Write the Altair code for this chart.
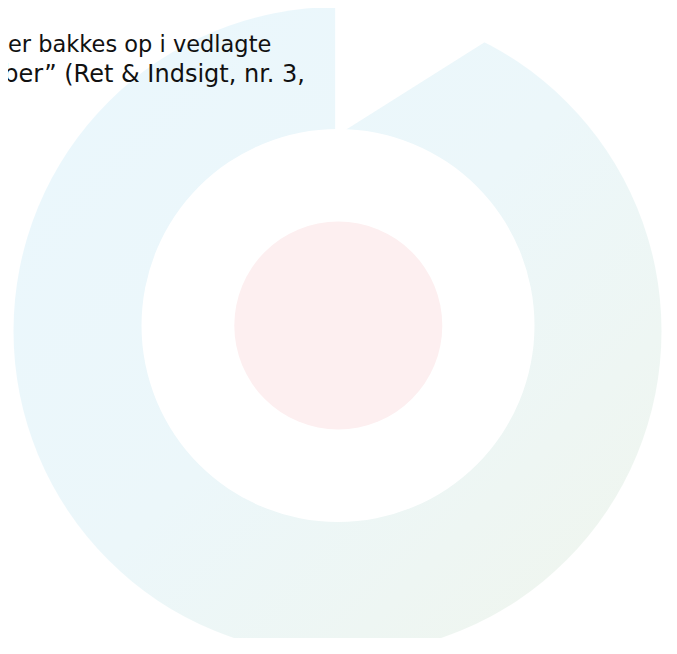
import math
import altair as alt
import pandas as pd

# ---- data -------------------------------------------------------------
text_lines = ["er bakkes op i vedlagte", "ber\u201d (Ret & Indsigt, nr. 3,"]

# ring: one band that runs from the gap all the way round (degrees, clockwise from 12 o'clock)
ring_names = ["Ring"]
ring_start_deg = [0.0]
ring_end_deg = [360.0]

# the gap in the ring is cut by a straight edge from the inner circle to the outer circle
gap_inner_deg = 2.6
gap_outer_deg = 27.0

# ---- geometry (chart pixels; page = chart + 8) ------------------------
W, H = 661, 630
RING_CX, RING_CY, R_OUT = 329.5, 323.0, 324.0
IN_CX, IN_CY, R_IN = 330.0, 317.5, 196.5
PINK_R = 104.0

ring_df = pd.DataFrame({
    "name": ring_names,
    "t0": [math.radians(a) for a in ring_start_deg],
    "t1": [math.radians(a) for a in ring_end_deg],
})

ring = alt.Chart(ring_df).mark_arc(
    radius=R_OUT, radius2=0,
    fill=alt.Gradient(
        gradient="linear", x1=0, y1=0, x2=1, y2=1,
        stops=[alt.GradientStop(color="#eaf7fd", offset=0),
               alt.GradientStop(color="#ecf7fa", offset=0.5),
               alt.GradientStop(color="#f0f5ec", offset=1)],
    ),
).encode(
    theta=alt.Theta("t0:Q", scale=None),
    theta2="t1:Q",
    x=alt.value(RING_CX), y=alt.value(RING_CY),
)

# white cut of the gap: polygon between vertical edge at 12 o'clock and the chord
def pt(cx, cy, r, deg):
    a = math.radians(deg)
    return cx + r * math.sin(a), cy - r * math.cos(a)

ix, iy = pt(IN_CX, IN_CY, R_IN, gap_inner_deg)
ox, oy = pt(RING_CX, RING_CY, R_OUT, gap_outer_deg)
dx, dy = ox - ix, oy - iy
ext = 0.15
cx_, cy_ = ox + dx * ext, oy + dy * ext
edge_x = RING_CX - 2.3
y_chord_at_edge = iy + (edge_x - ix) * dy / dx
gap_df = pd.DataFrame({"x": [edge_x, cx_], "y": [-12.0, cy_], "y2": [y_chord_at_edge, cy_]})

gap = alt.Chart(gap_df).mark_area(color="white", opacity=1).encode(
    x=alt.X("x:Q", scale=None, axis=None),
    y=alt.Y("y:Q", scale=None, axis=None),
    y2="y2:Q",
)

hole_df = pd.DataFrame({"name": ["hole"], "t0": [0.0], "t1": [2 * math.pi]})
hole = alt.Chart(hole_df).mark_arc(radius=R_IN, radius2=0, fill="white").encode(
    theta=alt.Theta("t0:Q", scale=None), theta2="t1:Q",
    x=alt.value(IN_CX), y=alt.value(IN_CY),
)

pink_df = pd.DataFrame({"name": ["centre"], "t0": [0.0], "t1": [2 * math.pi]})
pink = alt.Chart(pink_df).mark_arc(radius=PINK_R, radius2=0, fill="#fdeff0").encode(
    theta=alt.Theta("t0:Q", scale=None), theta2="t1:Q",
    x=alt.value(IN_CX + 0.3), y=alt.value(IN_CY),
)

text_df = pd.DataFrame({"txt": text_lines, "row": [0, 1]})
t1 = alt.Chart(text_df.iloc[[0]]).mark_text(
    align="left", baseline="alphabetic", font="DejaVu Sans", fontSize=22.5, color="#111111"
).encode(text="txt:N", x=alt.value(0), y=alt.value(43.7))
t2 = alt.Chart(text_df.iloc[[1]]).mark_text(
    align="right", baseline="alphabetic", font="DejaVu Sans", fontSize=24, color="#111111"
).encode(text="txt:N", x=alt.value(297), y=alt.value(73.7))

chart = alt.layer(ring, gap, hole, pink, t1, t2).properties(
    width=W, height=H, padding=0, autosize=alt.AutoSizeParams(type="none"),
    background="white",
).configure_view(strokeWidth=0)

chart.save("out.html", embed_options={"renderer": "svg", "actions": False})
